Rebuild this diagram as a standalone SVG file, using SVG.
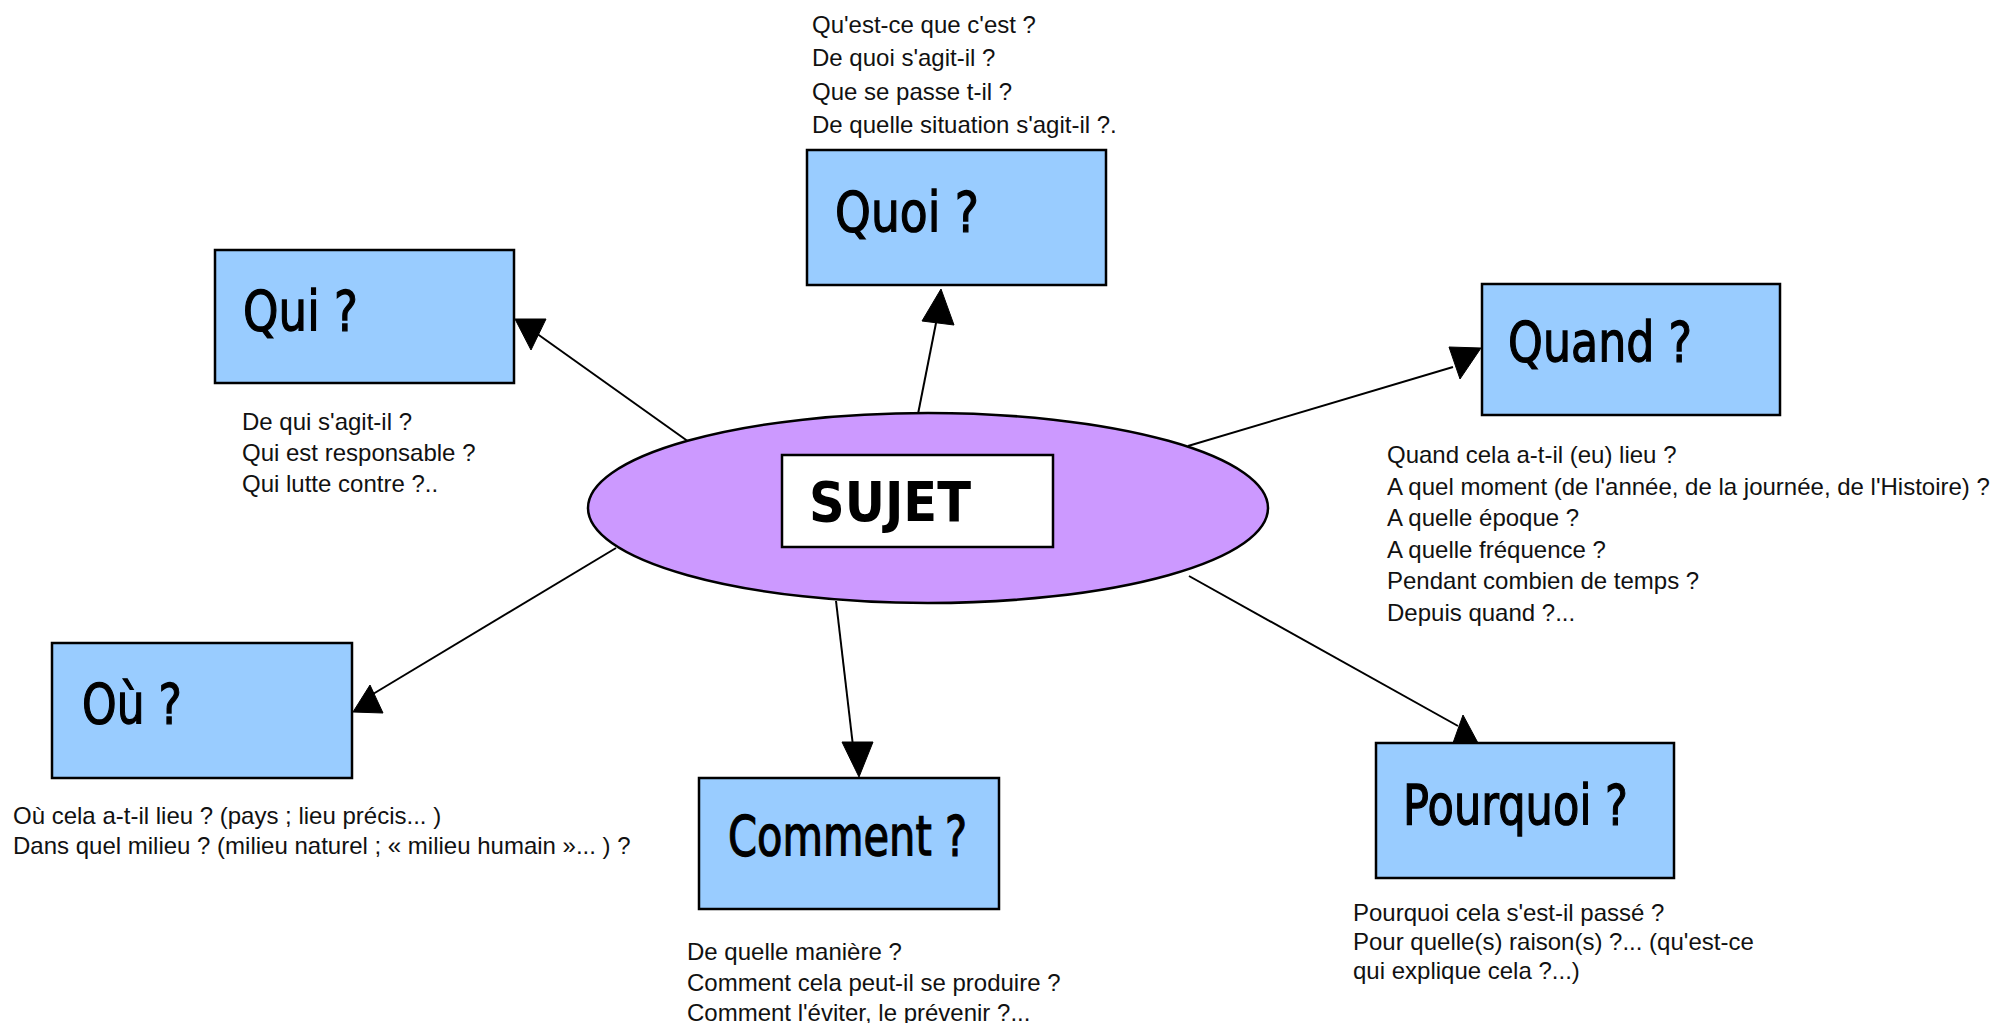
<svg xmlns="http://www.w3.org/2000/svg" width="1995" height="1023" viewBox="0 0 1995 1023">
<style>
.box{fill:#99CCFF;stroke:#000;stroke-width:2.5}
.lbl{font-family:"DejaVu Sans","Liberation Sans",sans-serif;font-size:55px;fill:#000;stroke:#000;stroke-width:1.3}
.q{font-family:"Liberation Sans",Arial,sans-serif;font-size:24px;fill:#111}
.ln{stroke:#000;stroke-width:2;fill:none}
.ah{fill:#000;stroke:#000;stroke-width:1}
</style>
<rect width="1995" height="1023" fill="#fff"/>
<g id="connectors">
<line class="ln" x1="696" y1="447" x2="536" y2="333"/>
<polygon class="ah" points="515,319 546,319 531,350"/>
<line class="ln" x1="918" y1="414" x2="937" y2="318"/>
<polygon class="ah" points="941,289 922,321 954,325"/>
<line class="ln" x1="1188" y1="446" x2="1453" y2="367"/>
<polygon class="ah" points="1449,347 1481,348 1460,379"/>
<line class="ln" x1="1189" y1="576" x2="1458" y2="726"/>
<polygon class="ah" points="1463,715 1453,743 1478,743"/>
<line class="ln" x1="836" y1="601" x2="853" y2="746"/>
<polygon class="ah" points="842,742 873,742 859,777"/>
<line class="ln" x1="616" y1="548" x2="373" y2="694"/>
<polygon class="ah" points="353,712 370,685 383,713"/>
</g>
<g id="sujet">
<ellipse cx="928" cy="508" rx="340" ry="95" fill="#CC99FF" stroke="#000" stroke-width="2.5"/>
<rect x="782" y="455" width="271" height="92" fill="#fff" stroke="#000" stroke-width="2.5"/>
<text x="809" y="521" font-family="DejaVu Sans, Liberation Sans, sans-serif" font-weight="bold" font-size="56" textLength="162" lengthAdjust="spacingAndGlyphs">SUJET</text>
</g>
<g id="qui">
<rect class="box" x="215" y="250" width="299" height="133"/>
<text class="lbl" x="243" y="330" textLength="115" lengthAdjust="spacingAndGlyphs">Qui ?</text>
<text class="q" x="242" y="430">De qui s'agit-il ?</text>
<text class="q" x="242" y="461">Qui est responsable ?</text>
<text class="q" x="242" y="492">Qui lutte contre ?..</text>
</g>
<g id="quoi">
<rect class="box" x="807" y="150" width="299" height="135"/>
<text class="lbl" x="835" y="231" textLength="144" lengthAdjust="spacingAndGlyphs">Quoi ?</text>
<text class="q" x="812" y="33">Qu'est-ce que c'est ?</text>
<text class="q" x="812" y="66">De quoi s'agit-il ?</text>
<text class="q" x="812" y="100">Que se passe t-il ?</text>
<text class="q" x="812" y="133">De quelle situation s'agit-il ?.</text>
</g>
<g id="quand">
<rect class="box" x="1482" y="284" width="298" height="131"/>
<text class="lbl" x="1508" y="361" textLength="184" lengthAdjust="spacingAndGlyphs">Quand ?</text>
<text class="q" x="1387" y="463">Quand cela a-t-il (eu) lieu ?</text>
<text class="q" x="1387" y="495">A quel moment (de l'année, de la journée, de l'Histoire) ?</text>
<text class="q" x="1387" y="526">A quelle époque ?</text>
<text class="q" x="1387" y="558">A quelle fréquence ?</text>
<text class="q" x="1387" y="589">Pendant combien de temps ?</text>
<text class="q" x="1387" y="621">Depuis quand ?...</text>
</g>
<g id="pourquoi">
<rect class="box" x="1376" y="743" width="298" height="135"/>
<text class="lbl" x="1403" y="824" textLength="225" lengthAdjust="spacingAndGlyphs">Pourquoi ?</text>
<text class="q" x="1353" y="921">Pourquoi cela s'est-il passé ?</text>
<text class="q" x="1353" y="950">Pour quelle(s) raison(s) ?... (qu'est-ce</text>
<text class="q" x="1353" y="979">qui explique cela ?...)</text>
</g>
<g id="comment">
<rect class="box" x="699" y="778" width="300" height="131"/>
<text class="lbl" x="728" y="855" textLength="239" lengthAdjust="spacingAndGlyphs">Comment ?</text>
<text class="q" x="687" y="960">De quelle manière ?</text>
<text class="q" x="687" y="991">Comment cela peut-il se produire ?</text>
<text class="q" x="687" y="1021">Comment l'éviter, le prévenir ?...</text>
</g>
<g id="ou">
<rect class="box" x="52" y="643" width="300" height="135"/>
<text class="lbl" x="82" y="723" textLength="100" lengthAdjust="spacingAndGlyphs">Où ?</text>
<text class="q" x="13" y="824">Où cela a-t-il lieu ? (pays ; lieu précis... )</text>
<text class="q" x="13" y="854">Dans quel milieu ? (milieu naturel ; « milieu humain »... ) ?</text>
</g>
</svg>
